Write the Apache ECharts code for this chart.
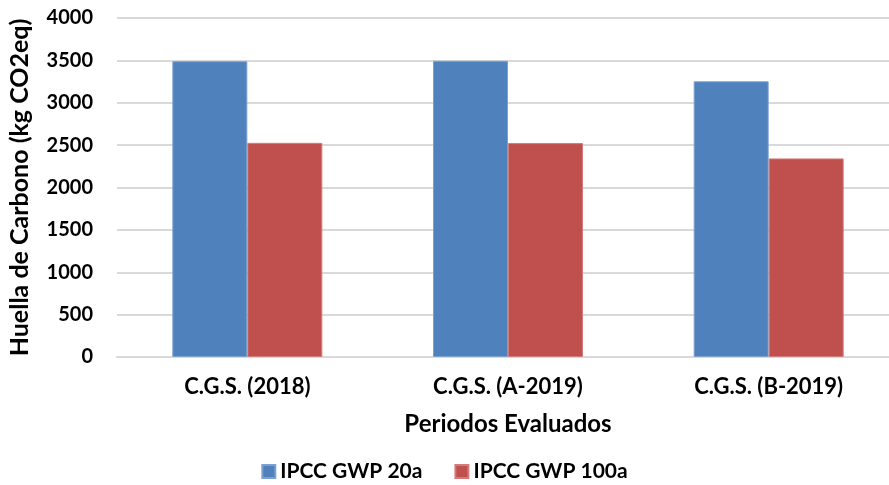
<!DOCTYPE html>
<html>
<head>
<meta charset="utf-8">
<script src="https://cdn.jsdelivr.net/npm/echarts@6/dist/echarts.min.js"></script>
<style>
  html, body { margin: 0; padding: 0; background: #fff; }
  #chart { width: 889px; height: 485px; }
</style>
</head>
<body>
<div id="chart"></div>
<script>
// Periods and carbon footprint per emission factor set
const periods = ['C.G.S. (2018)', 'C.G.S. (A-2019)', 'C.G.S. (B-2019)'];
const gwp20 = [3490, 3495, 3253];
const gwp100 = [2527, 2524, 2343];
const seriesNames = ['IPCC GWP 20a', 'IPCC GWP 100a'];
const yTicks = { min: 0, max: 4000, step: 500 };

const FONT = 'Lato, "Open Sans", sans-serif';
const chart = echarts.init(document.getElementById('chart'));

chart.setOption({
  animation: false,
  backgroundColor: '#ffffff',
  textStyle: { fontFamily: FONT },
  grid: {
    left: 117, top: 18, width: 782, height: 339,
    containLabel: false,
    outerBoundsMode: 'none'
  },
  legend: {
    top: 456,
    left: 'center',
    itemWidth: 13,
    itemHeight: 13,
    itemGap: 32,
    icon: 'rect',
    textStyle: { fontFamily: FONT, fontWeight: 'bold', fontSize: 21, color: '#000' },
    data: seriesNames
  },
  xAxis: {
    type: 'category',
    data: periods,
    name: 'Periodos Evaluados',
    nameLocation: 'middle',
    nameGap: 55,
    nameTextStyle: { fontFamily: FONT, fontWeight: 'bold', fontSize: 24, color: '#000' },
    axisLine: { show: true, lineStyle: { color: '#d9d9d9', width: 2 } },
    axisTick: { show: false },
    axisLabel: { fontFamily: FONT, fontWeight: 'bold', fontSize: 22, color: '#000', margin: 19 }
  },
  yAxis: {
    type: 'value',
    min: yTicks.min,
    max: yTicks.max,
    interval: yTicks.step,
    name: 'Huella de Carbono (kg CO2eq)',
    nameLocation: 'middle',
    nameRotate: 90,
    nameGap: 85,
    nameTextStyle: { fontFamily: FONT, fontWeight: 'bold', fontSize: 25, color: '#000' },
    axisLine: { show: false },
    axisTick: { show: false },
    axisLabel: {
      fontFamily: FONT, fontWeight: 'bold', fontSize: 20, color: '#000', margin: 24,
      formatter: v => String(v)
    },
    splitLine: { show: true, lineStyle: { color: '#d9d9d9', width: 2 } }
  },
  series: [
    {
      name: seriesNames[0],
      type: 'bar',
      data: gwp20,
      barWidth: 75,
      barGap: '0%',
      itemStyle: { color: '#4f81bd', borderColor: '#7da1cf', borderWidth: 1 }
    },
    {
      name: seriesNames[1],
      type: 'bar',
      data: gwp100,
      barWidth: 75,
      barGap: '0%',
      itemStyle: { color: '#c0504d', borderColor: '#d07c7a', borderWidth: 1 }
    }
  ]
});
</script>
</body>
</html>
